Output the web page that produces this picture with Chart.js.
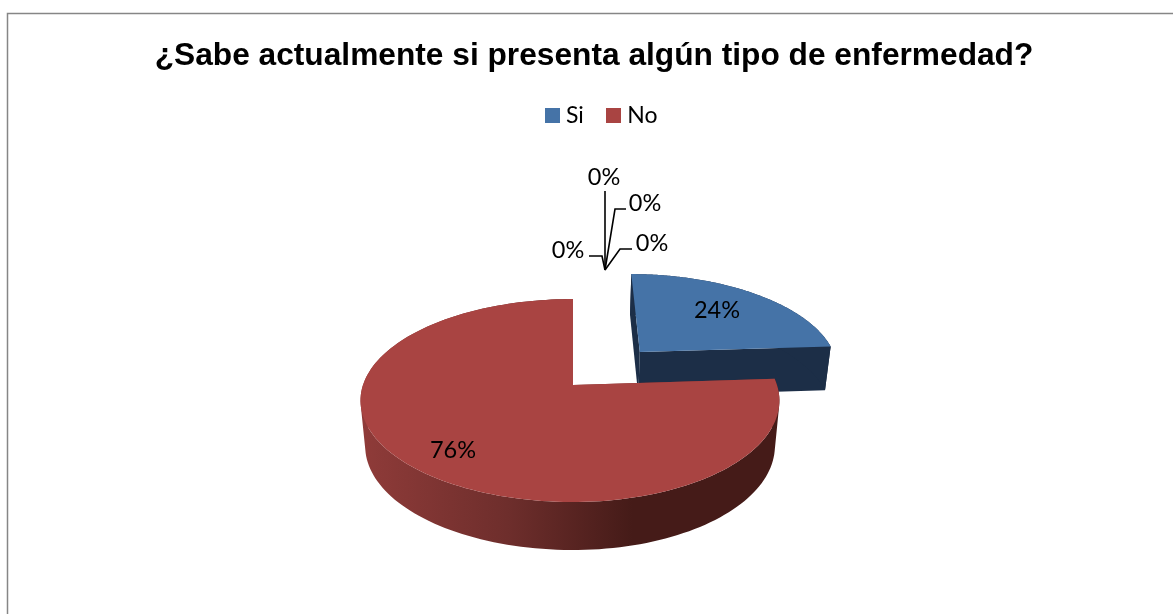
<!DOCTYPE html>
<html><head><meta charset="utf-8">
<style>html,body{margin:0;padding:0;background:#fff;overflow:hidden}#wrap{position:absolute;left:0;top:0;width:1173px;height:614px}</style>
<script src="https://cdn.jsdelivr.net/npm/chart.js@4/dist/chart.umd.min.js"></script>
</head><body><div id="wrap"><canvas id="c" width="1173" height="614"></canvas></div>
<script>
const titleText = '¿Sabe actualmente si presenta algún tipo de enfermedad?';
const categories = ['Si', 'No', 'Otro 1', 'Otro 2', 'Otro 3', 'Otro 4'];
const values = [24, 76, 0, 0, 0, 0];
const colors = ['#4573A7', '#A94442', '#4573A7', '#A94442', '#4573A7', '#A94442'];

// view of the tilted pie (homography of the unit disc)
const view = {cx: 573, cy: 385, a: 99.1, bRight: 204, bLeft: 210, k: 0.153,
  narrow: 0.978, explode: 0.46, exU: 0.03, exV: -0.015};
const leaders = [
  {tx: 604, ty: 177, pts: [[605,191],[605,270]]},
  {tx: 645, ty: 203, pts: [[626,209],[615,209],[605,270]]},
  {tx: 652, ty: 243, pts: [[632,249],[620,249],[605,270]]},
  {tx: 568, ty: 250, pts: [[589,256],[602,256],[605,270]]}
];

function project(u, v) {
  const w = 1 - view.k * v;
  const b = u > 0 ? view.bRight : view.bLeft;
  return [view.cx + b * u / w, view.cy + view.a * v / w];
}
function lower(u, v) {
  const q = project(u, v);
  return [view.cx + (q[0] - view.cx) * view.narrow, q[1] + 45 + 3 * v];
}
function slicePts(el, ex, dU, dV) {
  const s = el.startAngle, e = el.endAngle, mid = (s + e) / 2;
  const ou = ex * Math.cos(mid) + dU, ov = ex * Math.sin(mid) + dV;
  const n = 160, arc = [];
  for (let i = 0; i <= n; i++) {
    const t = s + (e - s) * i / n;
    arc.push([ou + Math.cos(t), ov + Math.sin(t)]);
  }
  return {apex: [ou, ov], arc};
}
function trace(ctx, pts) {
  pts.forEach((q, i) => { if (i === 0) ctx.moveTo(q[0], q[1]); else ctx.lineTo(q[0], q[1]); });
}
function area(q) {
  let s = 0;
  q.forEach((p, i) => { const r = q[(i + 1) % q.length]; s += p[0] * r[1] - r[0] * p[1]; });
  return s;
}
// all strips of a wall go in one path, wound alike, so the fill has no seams
function wall(ctx, uv, fill) {
  ctx.beginPath();
  for (let i = 0; i + 1 < uv.length; i++) {
    const p = uv[i], r = uv[i + 1];
    let q = [project(p[0], p[1]), project(r[0], r[1]), lower(r[0], r[1]), lower(p[0], p[1])];
    if (area(q) < 0) q = q.reverse();
    trace(ctx, q);
    ctx.closePath();
  }
  ctx.fillStyle = fill; ctx.fill('nonzero');
}
function drawSlice(ctx, el, idx, ex, dU, dV, wallFill, cutFill) {
  const {apex, arc} = slicePts(el, ex, dU, dV);
  wall(ctx, [apex, arc[arc.length - 1]], cutFill);
  wall(ctx, [apex, arc[0]], cutFill);
  wall(ctx, arc, wallFill);
  ctx.beginPath();
  trace(ctx, [project(apex[0], apex[1]), ...arc.map(p => project(p[0], p[1]))]);
  ctx.closePath(); ctx.fillStyle = colors[idx]; ctx.fill();
}

const pie3d = {
  id: 'pie3d',
  afterLayout(chart) {
    const lg = chart.legend;
    lg.left += 10; lg.right += 10;
    lg.top += 1; lg.bottom += 1;
  },
  beforeDatasetsDraw(chart) {
    const ctx = chart.ctx, els = chart.getDatasetMeta(0).data;
    ctx.save();
    drawSlice(ctx, els[0], 0, view.explode, view.exU, view.exV, '#1C2E47', '#1C2E47');
    const g = ctx.createLinearGradient(362, 0, 778, 0);
    g.addColorStop(0, '#8F3B39');
    g.addColorStop(0.35, '#6E2E2C');
    g.addColorStop(0.65, '#451B18');
    g.addColorStop(1, '#451B18');
    drawSlice(ctx, els[1], 1, 0, 0, 0, g, '#7A302E');
    ctx.fillStyle = '#000';
    ctx.font = '23.5px Lato, Carlito, sans-serif';
    ctx.textAlign = 'center'; ctx.textBaseline = 'middle';
    const total = values.reduce((a, b) => a + b, 0);
    [0, 1].forEach(i => {
      const txt = Math.round(values[i] / total * 100) + '%';
      ctx.fillText(txt, i ? 453 : 717, i ? 450 : 310);
    });
    ctx.strokeStyle = '#000'; ctx.lineWidth = 1.6;
    leaders.forEach((l, i) => {
      ctx.beginPath();
      l.pts.forEach((p, j) => j ? ctx.lineTo(p[0], p[1]) : ctx.moveTo(p[0], p[1]));
      ctx.stroke();
      ctx.fillText(values[i + 2] + '%', l.tx, l.ty);
    });
    ctx.restore();
    return false;
  },
  beforeDraw(chart) {
    const ctx = chart.ctx;
    ctx.save(); ctx.fillStyle = '#fff'; ctx.fillRect(0, 0, chart.width, chart.height);
    ctx.strokeStyle = '#868686'; ctx.lineWidth = 1.5;
    ctx.beginPath(); ctx.moveTo(7.5, 614); ctx.lineTo(7.5, 13.5); ctx.lineTo(1173, 13.5); ctx.stroke();
    ctx.restore();
  }
};

function swatch(color) {
  const s = document.createElement('canvas');
  s.width = 15; s.height = 15;
  const x = s.getContext('2d');
  x.fillStyle = color; x.fillRect(0, 0, 15, 15);
  return s;
}

new Chart(document.getElementById('c'), {
  type: 'pie',
  data: {labels: categories, datasets: [{data: values, backgroundColor: colors, borderWidth: 0}]},
  options: {
    responsive: false, animation: false,
    layout: {padding: {top: 37, left: 15}},
    plugins: {
      tooltip: {enabled: false},
      title: {display: true, text: titleText, color: '#000',
        font: {family: '"Liberation Sans", Arial, sans-serif', size: 31.7, weight: 'bold'},
        padding: {top: 0, bottom: 0}},
      legend: {position: 'top',
        labels: {color: '#000', usePointStyle: true, pointStyleWidth: 4, boxHeight: 15, padding: 28,
          font: {family: 'Lato, Carlito, sans-serif', size: 23},
          generateLabels: () => categories.slice(0, 2).map((t, i) => ({
            text: t, index: i, fontColor: '#000', hidden: false, lineWidth: 0,
            fillStyle: colors[i], strokeStyle: colors[i], pointStyle: swatch(colors[i])
          }))}}
    }
  },
  plugins: [pie3d]
});
</script></body></html>
